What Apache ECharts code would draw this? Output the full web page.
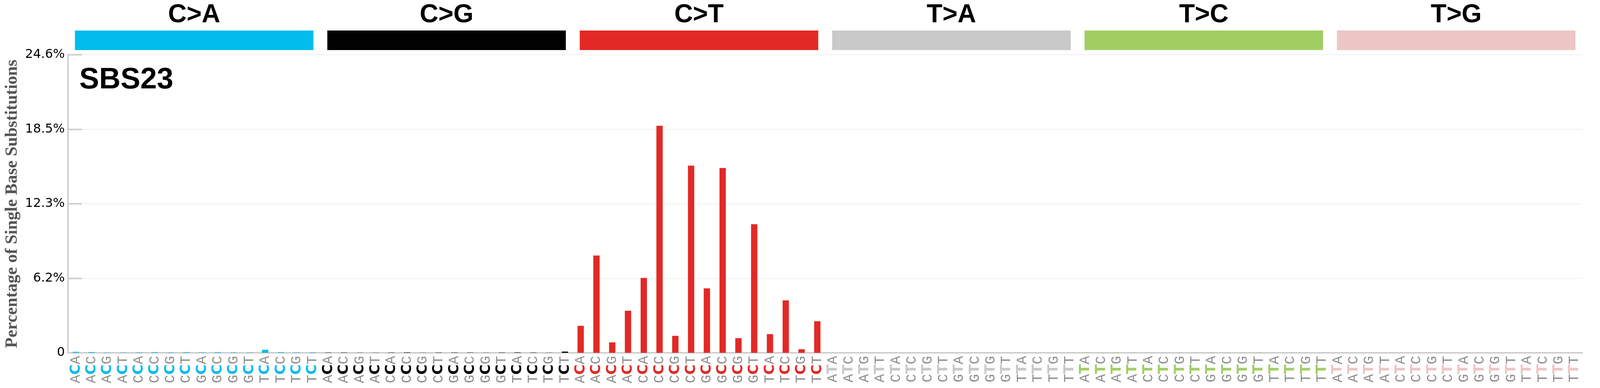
<!DOCTYPE html><html><head><meta charset="utf-8"><script src="https://cdn.jsdelivr.net/npm/echarts@6/dist/echarts.min.js"></script>
<style>html,body{margin:0;padding:0;overflow:hidden}#c{width:100vw;height:100vh}</style></head><body><div id="c"></div><script>
const groups=['C>A','C>G','C>T','T>A','T>C','T>G'];
const groupColors=['#03BCEE','#010101','#E32926','#CAC9C9','#A1CE63','#EBC6C4'];
const contexts=['A_A','A_C','A_G','A_T','C_A','C_C','C_G','C_T','G_A','G_C','G_G','G_T','T_A','T_C','T_G','T_T'];
const valCA=[0.08,0.06,0.02,0.02,0.03,0.05,0.03,0.05,0.03,0.05,0.03,0.02,0.25,0.05,0.03,0.03];
const valCG=[0.02,0.02,0.01,0.01,0.02,0.03,0.01,0.02,0.02,0.02,0.01,0.02,0.03,0.02,0.01,0.1];
const valCT=[2.23,8.03,0.86,3.47,6.18,18.74,1.40,15.45,5.32,15.25,1.21,10.61,1.54,4.33,0.29,2.61];
const valTA=[0.01,0.01,0.01,0.01,0.02,0.01,0.01,0.01,0.01,0.01,0.01,0.01,0.01,0.01,0.01,0.01];
const valTC=[0.03,0.02,0.03,0.01,0.01,0.01,0.01,0.01,0.02,0.01,0.02,0.03,0.01,0.01,0.01,0.01];
const valTG=[0.01,0.01,0.01,0.01,0.01,0.01,0.01,0.01,0.01,0.01,0.01,0.01,0.01,0.01,0.01,0.01];
const yTickLabels=['0','6.2%','12.3%','18.5%','24.6%'];
const yMax=24.6;
const allVals=[valCA,valCG,valCT,valTA,valTC,valTG];
const cats=[],data=[];
const rich={o:{fontFamily:'Liberation Mono',fontSize:36,color:'#8f8f8f'}};
groups.forEach((g,gi)=>{
  rich['m'+gi]={fontFamily:'DejaVu Sans',fontWeight:'bold',fontSize:36,color:groupColors[gi]};
  contexts.forEach((c,ci)=>{
    cats.push(gi+'|'+c[0]+'|'+g[0]+'|'+c[2]);
    data.push({value:allVals[gi][ci],itemStyle:{color:groupColors[gi]}});
  });
});
const chart=echarts.init(document.getElementById('c'));
chart.setOption({
  animation:false,backgroundColor:'#fff',
  title:{text:'SBS23',left:198,top:162,textStyle:{fontFamily:'Liberation Sans',fontWeight:'bold',fontSize:76,color:'#000'}},
  grid:[{left:174,right:45,top:140,bottom:90},{left:174,right:45,top:78,height:50}],
  xAxis:[{type:'category',data:cats,gridIndex:0,axisLine:{lineStyle:{color:'#cfcfcf',width:4}},axisTick:{show:false},
    axisLabel:{interval:0,rotate:90,margin:8,formatter:v=>{const p=v.split('|');return '{o|'+p[1]+'}{m'+p[0]+'|'+p[2]+'}{o|'+p[3]+'}';},rich:rich}},
   {type:'category',data:groups,gridIndex:1,position:'top',axisLine:{show:false},axisTick:{show:false},
    axisLabel:{margin:6,fontFamily:'Liberation Sans',fontWeight:'bold',fontSize:66,color:'#000'}}],
  yAxis:[{type:'value',gridIndex:0,min:0,max:yMax,interval:yMax/4,
    name:'Percentage of Single Base Substitutions',nameLocation:'middle',nameGap:120,
    nameTextStyle:{fontFamily:'Liberation Serif',fontWeight:'bold',fontSize:44,color:'#555'},
    axisLine:{show:true,lineStyle:{color:'#cfcfcf',width:4}},
    axisTick:{show:true,inside:true,length:36,lineStyle:{color:'#cfcfcf',width:4}},
    splitLine:{lineStyle:{color:'#efefef',width:2}},
    axisLabel:{fontFamily:'DejaVu Sans',fontSize:32,color:'#000',margin:8,formatter:(v,i)=>yTickLabels[i]}},
   {type:'value',gridIndex:1,min:0,max:1,show:false}],
  series:[{type:'bar',xAxisIndex:0,yAxisIndex:0,data:data,barCategoryGap:'60%'},
   {type:'bar',xAxisIndex:1,yAxisIndex:1,barCategoryGap:'5.5%',
    data:groups.map((g,i)=>({value:1,itemStyle:{color:groupColors[i]}}))}]
});
</script></body></html>
